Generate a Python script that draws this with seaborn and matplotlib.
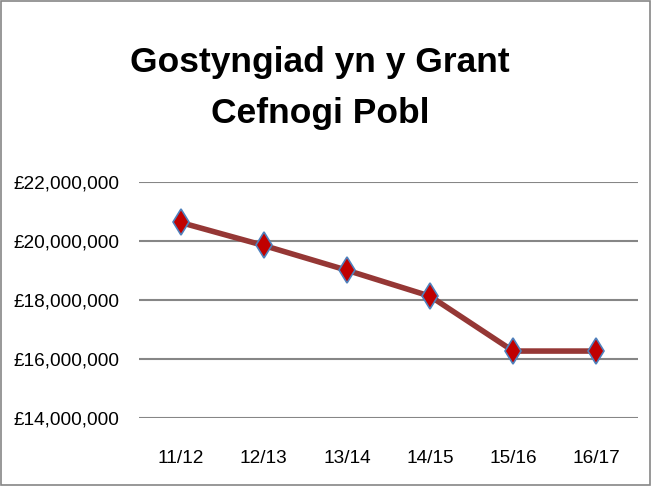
import matplotlib
matplotlib.use("Agg")
import matplotlib.pyplot as plt
import matplotlib.ticker as mticker
from matplotlib import font_manager
from matplotlib.patches import Rectangle
import seaborn as sns
import pandas as pd

# Data
years = ["11/12", "12/13", "13/14", "14/15", "15/16", "16/17"]
grant = [20620000, 19840000, 19000000, 18120000, 16260000, 16260000]
title_lines = ["Gostyngiad yn y Grant", "Cefnogi Pobl"]

df = pd.DataFrame({"year": years, "grant": grant})

sns.set_style("white")
plt.rcParams["font.family"] = ["Liberation Sans", "DejaVu Sans"]
plt.rcParams["text.color"] = "black"

# narrower face for the tick labels if it is there (closer to Calibri)
installed = {f.name for f in font_manager.fontManager.ttflist}
if "Liberation Sans Narrow" in installed:
    tick_font, tick_size = "Liberation Sans Narrow", 16
else:
    tick_font, tick_size = "Liberation Sans", 13.7

fig = plt.figure(figsize=(6.51, 4.86), dpi=100)
ax = fig.add_axes([0.2135, 0.1405, 0.7665, 0.4855])

sns.lineplot(data=df, x="year", y="grant", ax=ax, color="#953735", linewidth=4,
             marker="d", markersize=13, markerfacecolor="#C00000",
             markeredgecolor="#4F81BD", markeredgewidth=1.2, sort=False)

ax.set_xlim(-0.5, 5.5)
ax.set_ylim(14000000, 22000000)
ax.yaxis.set_major_locator(mticker.MultipleLocator(2000000))
ax.yaxis.set_major_formatter(mticker.FuncFormatter(lambda v, p: f"£{v:,.0f}"))
ax.grid(axis="y", color="#868686", linewidth=1.5)
ax.set_axisbelow(True)
for s in ax.spines.values():
    s.set_visible(False)
ax.tick_params(axis="both", length=0, colors="black")
ax.tick_params(axis="y", pad=14)
ax.tick_params(axis="x", pad=23)
for lab in ax.get_xticklabels() + ax.get_yticklabels():
    lab.set_fontfamily(tick_font)
    lab.set_fontsize(tick_size)
ax.set_xlabel("")
ax.set_ylabel("")

# two-line title, each line on its own baseline
fig.text(0.492, 0.8525, title_lines[0], ha="center", va="baseline",
         fontsize=25.5, fontweight="bold", color="black")
fig.text(0.492, 0.747, title_lines[1], ha="center", va="baseline",
         fontsize=25.5, fontweight="bold", color="black")

# chart border
fig.patches.append(Rectangle((0.002, 0.002), 0.996, 0.996, transform=fig.transFigure,
                             fill=False, edgecolor="#868686", linewidth=1.2))

fig.savefig("out.png", dpi=100)
